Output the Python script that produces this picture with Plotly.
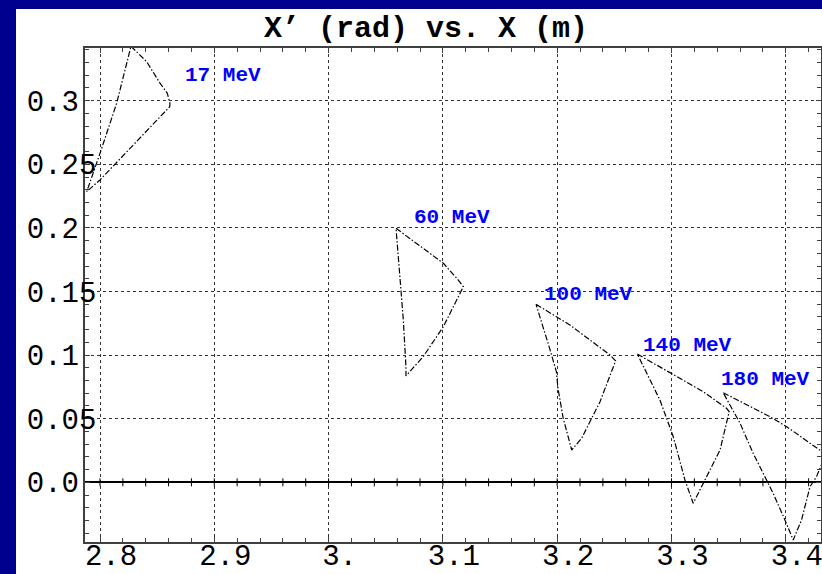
import numpy as np
import plotly.graph_objects as go

# Phase-space outlines (X in m, X' in rad), one closed loop per beam energy
x_17 = [2.8271, 2.8408, 2.8525, 2.8589, 2.8612, 2.8610, 2.8000, 2.7884, 2.8000, 2.8146, 2.8271]
y_17 = [0.3428, 0.3307, 0.3138, 0.3058, 0.2980, 0.2953, 0.2377, 0.2285, 0.2586, 0.2980, 0.3428]

x_60 = [3.0590, 3.1004, 3.1135, 3.1179, 3.1004, 3.0827, 3.0677, 3.0677, 3.0654, 3.0610, 3.0590]
y_60 = [0.1997, 0.1722, 0.1590, 0.1538, 0.1223, 0.0987, 0.0836, 0.0909, 0.1276, 0.1800, 0.1997]

x_100 = [3.1815, 3.2111, 3.2462, 3.2511, 3.2375, 3.2214, 3.2127, 3.2053, 3.2007, 3.1993, 3.1934, 3.1861, 3.1815]
y_100 = [0.1399, 0.1237, 0.1001, 0.0954, 0.0634, 0.0346, 0.0254, 0.0503, 0.0739, 0.0870, 0.1053, 0.1263, 0.1399]

x_140 = [3.2701, 3.3278, 3.3482, 3.3505, 3.3425, 3.3308, 3.3190, 3.3118, 3.3016, 3.2899, 3.2783, 3.2701]
y_140 = [0.1009, 0.0712, 0.0582, 0.0555, 0.0254, 0.0044, -0.0165, 0.0018, 0.0358, 0.0647, 0.0857, 0.1009]

x_180 = [3.3453, 3.3862, 3.4008, 3.4299, 3.4350, 3.4269, 3.4212, 3.4138, 3.4065, 3.3993, 3.3890, 3.3715, 3.3600, 3.3453]
y_180 = [0.0704, 0.0516, 0.0437, 0.0254, 0.0220, 0.0044, -0.0035, -0.0296, -0.0454, -0.0296, -0.0087, 0.0228, 0.0464, 0.0704]

energy_labels = ["17 MeV", "60 MeV", "100 MeV", "140 MeV", "180 MeV"]
label_x = [2.8726, 3.0730, 3.1867, 3.2733, 3.3416]
label_y = [0.3202, 0.2078, 0.1474, 0.1073, 0.0812]

x_tickvals = [2.8, 2.9, 3.0, 3.1, 3.2, 3.3, 3.4]
x_ticktext = ["2.8", "2.9", "3.", "3.1", "3.2", "3.3", "3.4"]
y_tickvals = [0.0, 0.05, 0.1, 0.15, 0.2, 0.25, 0.3]
y_ticktext = ["0.0", "0.05", "0.1", "0.15", "0.2", "0.25", "0.3"]

MONO = "Liberation Mono, Courier New, monospace"
NAVY = "#00008f"
FRAME = "#404040"

fig = go.Figure()

for xs, ys in [(x_17, y_17), (x_60, y_60), (x_100, y_100), (x_140, y_140), (x_180, y_180)]:
    fig.add_trace(go.Scatter(
        x=xs, y=ys, mode="lines",
        line=dict(color="black", width=1.2, dash="6px,2px,1.5px,2px"),
        showlegend=False, hoverinfo="skip",
    ))

for txt, lx, ly in zip(energy_labels, label_x, label_y):
    fig.add_annotation(
        x=lx, y=ly, text=txt, showarrow=False,
        xanchor="left", yanchor="middle",
        font=dict(family=MONO, size=21, color="#0000ff", weight="bold"),
    )

# crossing tick marks on the X' = 0 axis line
for xv in np.round(np.arange(2.80, 3.43, 0.02), 2):
    fig.add_shape(
        type="line", xref="x", yref="y",
        x0=xv, x1=xv, ysizemode="pixel", yanchor=0, y0=-4, y1=4,
        line=dict(color="black", width=1),
    )

# navy border strips around the white page
fig.add_shape(type="rect", xref="paper", yref="paper", layer="below",
              x0=-1, x1=(16 - 85) / 736, y0=-1, y1=2,
              fillcolor=NAVY, line=dict(width=0))
fig.add_shape(type="rect", xref="paper", yref="paper", layer="below",
              x0=-1, x1=2, y0=(542 - 9) / 494, y1=2,
              fillcolor=NAVY, line=dict(width=0))

fig.update_xaxes(
    range=[2.78688, 3.43083], automargin=False,
    tickmode="array", tickvals=x_tickvals, ticktext=x_ticktext,
    ticks="inside", ticklen=5, tickcolor=FRAME, tickwidth=1,
    minor=dict(tickmode="linear", tick0=2.8, dtick=0.02, ticks="inside",
               ticklen=4, tickcolor=FRAME, showgrid=False),
    showline=True, linecolor=FRAME, linewidth=1.5, mirror="ticks",
    showgrid=True, gridcolor="#333333", gridwidth=1, griddash="dot",
    zeroline=False,
    tickfont=dict(family=MONO, size=29, color="black"),
    ticklabelshift=11, ticklabelstandoff=-14, ticklabeloverflow="allow",
)
fig.update_yaxes(
    range=[-0.04693, 0.34143], automargin=False,
    tickmode="array", tickvals=y_tickvals,
    ticktext=[t.ljust(4, "\u00a0") for t in y_ticktext],
    ticks="inside", ticklen=5, tickcolor=FRAME, tickwidth=1,
    minor=dict(tickmode="linear", tick0=0, dtick=0.01, ticks="inside",
               ticklen=4, tickcolor=FRAME, showgrid=False),
    showline=True, linecolor=FRAME, linewidth=1.5, mirror="ticks",
    showgrid=True, gridcolor="#333333", gridwidth=1, griddash="dot",
    zeroline=True, zerolinecolor="black", zerolinewidth=1.5,
    tickfont=dict(family=MONO, size=29, color="black"),
    ticklabelstandoff=-19, ticklabeloverflow="allow",
)

fig.update_layout(
    width=822, height=574,
    margin=dict(l=85, r=1, t=48, b=32),
    paper_bgcolor="white", plot_bgcolor="white",
    title=dict(
        text="X’ (rad) vs. X (m)",
        x=426 / 822, xref="container", xanchor="center",
        y=1 - 26 / 574, yref="container", yanchor="middle",
        font=dict(family=MONO, size=30, color="black", weight="bold"),
    ),
)

fig.write_html("out.html")
